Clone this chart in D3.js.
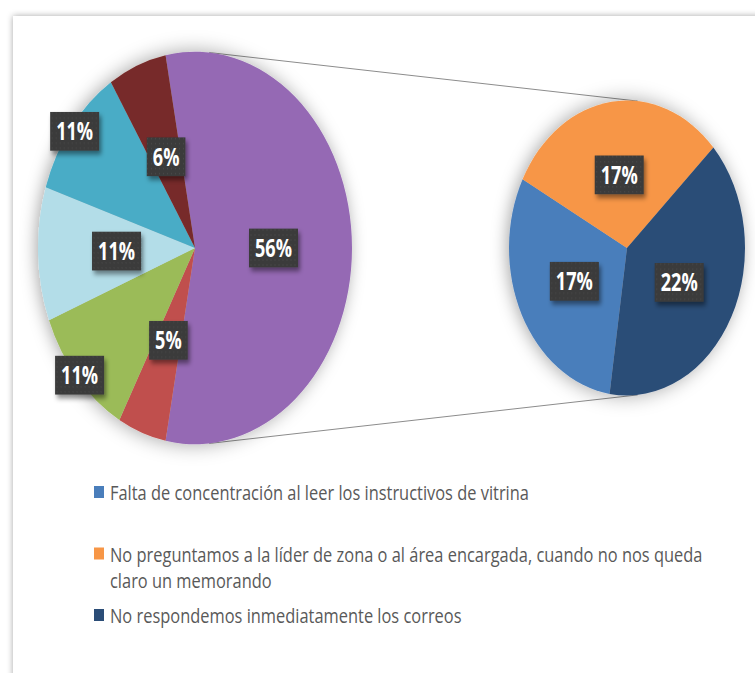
<!DOCTYPE html>
<html>
<head>
<meta charset="utf-8">
<script src="https://cdn.jsdelivr.net/npm/d3@7"></script>
<style>
  body { margin:0; background:#fff; }
  svg { display:block; }
</style>
</head>
<body>
<div id="chart"></div>
<script>

// main pie: the "other" slice first, then clockwise
const mainNames = ['Otros', 'Causa 5', 'Causa 4', 'Causa 3', 'Causa 2', 'Causa 1'];
const mainValues = [56, 5, 11, 11, 11, 6];
const mainColors = ['#9569b4', '#c0504d', '#9bbb59', '#b3dde8', '#4aacc6', '#772c2a'];

// second pie (breakdown of "other")
const subNames = [
    'Falta de concentración al leer los instructivos de vitrina',
    'No preguntamos a la líder de zona o al área encargada, cuando no nos queda claro un memorando',
    'No respondemos inmediatamente los correos'
];
const subValues = [17, 17, 22];
const subColors = ['#4a7ebb', '#f79646', '#2b4d77'];

// legend text as wrapped in the picture
const legendLines = [
    ['Falta de concentración al leer los instructivos de vitrina'],
    ['No preguntamos a la líder de zona o al área encargada, cuando no nos queda', 'claro un memorando'],
    ['No respondemos inmediatamente los correos']
];

const W = 755, H = 673;
const sy = 1.25;                 // the picture is stretched vertically
const c1 = {x:195, y:248, r:157};
const c2 = {x:627, y:248, r:118};
const deg = Math.PI / 180;
const font = "'Open Sans', 'Liberation Sans', sans-serif";

const svg = d3.select('#chart')
    .append('svg')
    .attr('width', W)
    .attr('height', H);

const defs = svg.append('defs');

defs.append('filter').attr('id', 'frameShadow')
    .attr('x', '-5%').attr('y', '-5%').attr('width', '110%').attr('height', '110%')
    .append('feDropShadow')
    .attr('dx', 0).attr('dy', 0).attr('stdDeviation', 3)
    .attr('flood-color', '#000').attr('flood-opacity', 0.35);

defs.append('filter').attr('id', 'pieShadow')
    .attr('x', '-20%').attr('y', '-20%').attr('width', '140%').attr('height', '140%')
    .append('feDropShadow')
    .attr('dx', -2).attr('dy', 0).attr('stdDeviation', 8)
    .attr('flood-color', '#000').attr('flood-opacity', 0.35);

defs.append('filter').attr('id', 'labelShadow')
    .attr('x', '-30%').attr('y', '-30%').attr('width', '170%').attr('height', '170%')
    .append('feDropShadow')
    .attr('dx', 2).attr('dy', 3).attr('stdDeviation', 2)
    .attr('flood-color', '#000').attr('flood-opacity', 0.45);

const pat = defs.append('pattern').attr('id', 'dots')
    .attr('width', 4).attr('height', 4).attr('patternUnits', 'userSpaceOnUse');
pat.append('rect').attr('width', 4).attr('height', 4).attr('fill', '#3a3a3a');
pat.append('rect').attr('x', 1).attr('y', 1).attr('width', 1).attr('height', 1).attr('fill', '#4c4c4c');

// chart area frame
svg.append('rect')
    .attr('x', 13).attr('y', 16)
    .attr('width', W + 20).attr('height', H + 20)
    .attr('fill', '#fff')
    .attr('filter', 'url(#frameShadow)');

// connector lines (outer tangents of the two pies)
const alpha = Math.asin((c1.r - c2.r) / (c2.x - c1.x));
[1, -1].forEach(s => {
    const a = s > 0 ? alpha : Math.PI - alpha;
    const p1 = [c1.x + c1.r * Math.sin(a), c1.y - sy * c1.r * Math.cos(a)];
    const p2 = [c2.x + c2.r * Math.sin(a), c2.y - sy * c2.r * Math.cos(a)];
    svg.append('line')
        .attr('x1', p1[0]).attr('y1', p1[1])
        .attr('x2', p2[0]).attr('y2', p2[1])
        .attr('stroke', '#8c8c8c')
        .attr('stroke-width', 1);
});

const labels = [];

function drawPie(c, values, colors, startDeg, labelPos) {
    const pie = d3.pie().sort(null)
        .startAngle(startDeg * deg)
        .endAngle(startDeg * deg + 2 * Math.PI);
    const arcs = pie(values);
    const arc = d3.arc().innerRadius(0).outerRadius(c.r);

    const g = svg.append('g')
        .attr('transform', `translate(${c.x},${c.y}) scale(1,${sy})`);

    g.append('g')
        .attr('filter', 'url(#pieShadow)')
        .selectAll('path')
        .data(arcs)
        .enter().append('path')
        .attr('d', arc)
        .attr('fill', (d, i) => colors[i]);

    // data labels
    const lab = svg.selectAll(null)
        .data(arcs)
        .enter().append('g')
        .attr('class', 'dlabel')
        .attr('transform', (d, i) => {
            const m = (d.startAngle + d.endAngle) / 2;
            const r = c.r * labelPos[i];
            return `translate(${c.x + r * Math.sin(m)},${c.y - sy * r * Math.cos(m)}) scale(1,${sy})`;
        });

    lab.append('rect')
        .attr('y', -15.5).attr('height', 31)
        .attr('fill', 'url(#dots)')
        .attr('filter', 'url(#labelShadow)');

    lab.append('text')
        .attr('text-anchor', 'middle')
        .attr('dy', '0.36em')
        .style('font-family', font)
        .style('font-weight', 'bold')
        .style('font-size', '19.5px')
        .attr('fill', '#fff')
        .text(d => d.data + '%');
}

// the other slice sits centred on the right side of the main pie
const otherStart = 90 - mainValues[0] / d3.sum(mainValues) * 180;
drawPie(c1, mainValues, mainColors, otherStart, [0.5, 0.5, 0.98, 0.5, 0.97, 0.5]);
drawPie(c2, subValues, subColors, 188.5, [0.5, 0.5, 0.5]);

// squeeze label text to the narrow face of the picture ("11%" is about 37px wide)
(function fitLabels() {
    const ref = svg.selectAll('.dlabel text').filter(d => d.data === 11).node();
    const kx = 37 / ref.getComputedTextLength();
    svg.selectAll('.dlabel').each(function() {
        const g = d3.select(this);
        const t = g.select('text');
        const w = t.node().getComputedTextLength() * kx;
        t.attr('transform', `scale(${kx},1)`);
        g.select('rect').attr('x', -w / 2 - 6).attr('width', w + 12);
    });
})();

// legend
const legendY = [500, 561.5, 623];
const legend = svg.append('g').attr('class', 'legend');

legendLines.forEach((lines, i) => {
    const item = legend.append('g')
        .attr('transform', `translate(0,${legendY[i]})`);
    item.append('rect')
        .attr('x', 94).attr('y', -14)
        .attr('width', 10).attr('height', 12)
        .attr('fill', subColors[i]);
    const txt = item.append('text')
        .attr('class', 'ltext')
        .attr('transform', `translate(110,0) scale(1,${sy})`)
        .style('font-family', font)
        .style('font-size', '16.5px')
        .attr('fill', '#595959');
    lines.forEach((l, j) => {
        txt.append('tspan')
            .attr('x', 0)
            .attr('y', j * 26.5 / sy)
            .text(l);
    });
});

// squeeze legend text so the first entry is ~419px wide like the picture
(function fitLegend() {
    const t = legend.select('.ltext tspan').node();
    const kx = 419 / t.getComputedTextLength();
    legend.selectAll('.ltext')
        .attr('transform', `translate(110,0) scale(${kx},${sy})`);
})();

</script>
</body>
</html>
